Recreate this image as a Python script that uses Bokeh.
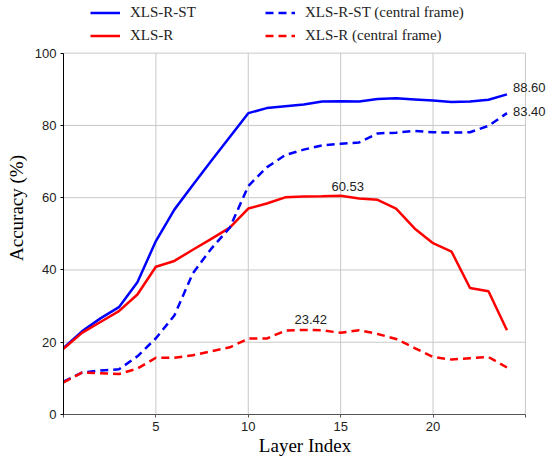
from bokeh.plotting import figure
from bokeh.models import Legend, LegendItem, Label, FixedTicker, Range1d
from bokeh.embed import file_html
from bokeh.resources import INLINE

layers = list(range(25))
xlsr_st = [18.4, 23.0, 26.6, 29.7, 36.6, 48.0, 56.7, 63.5, 70.2, 76.8, 83.4, 84.8, 85.3, 85.8,
           86.6, 86.7, 86.6, 87.3, 87.5, 87.2, 86.9, 86.5, 86.6, 87.1, 88.6]
xlsr = [18.2, 22.6, 25.6, 28.6, 33.2, 40.9, 42.5, 45.6, 48.6, 51.7, 57.0, 58.4, 60.1, 60.3,
        60.4, 60.53, 59.8, 59.4, 57.0, 51.5, 47.4, 45.1, 35.0, 34.1, 23.3]
xlsr_st_cf = [9.1, 11.6, 12.2, 12.5, 16.1, 21.1, 27.4, 39.1, 45.9, 51.7, 63.2, 68.4, 71.8, 73.3,
              74.5, 74.9, 75.3, 77.8, 78.0, 78.5, 78.1, 78.0, 78.1, 79.9, 83.4]
xlsr_cf = [8.9, 11.6, 11.4, 11.2, 12.7, 15.7, 15.7, 16.4, 17.5, 18.6, 21.0, 21.0, 23.2, 23.42,
           23.3, 22.6, 23.3, 22.3, 20.9, 18.4, 15.9, 15.2, 15.6, 15.9, 13.0]
x_label_ticks = [5, 10, 15, 20]
x_edge_ticks = [0, 25]
x_grid_ticks = [5, 10, 15, 20, 25]
y_ticks = [0, 20, 40, 60, 80, 100]
x_lim = (0, 25)
y_lim = (0, 100)

SERIF = "Liberation Serif"
SANS = "Liberation Sans"

p = figure(width=547, height=458, output_backend="svg", toolbar_location=None,
           x_range=Range1d(0, 26.14), y_range=Range1d(0, 114.3),
           min_border_left=63, min_border_right=1, min_border_top=1, min_border_bottom=2)
p.outline_line_color = None
p.grid.visible = False

# grid lines limited to the data box
GRID = "#c8c8c8"
p.segment(x0=[x_lim[0]] * len(y_ticks), x1=[x_lim[1]] * len(y_ticks), y0=y_ticks, y1=y_ticks,
          line_color=GRID, line_width=1)
p.segment(x0=x_grid_ticks, x1=x_grid_ticks, y0=[y_lim[0]] * len(x_grid_ticks),
          y1=[y_lim[1]] * len(x_grid_ticks), line_color=GRID, line_width=1)

p.xaxis.ticker = FixedTicker(ticks=x_label_ticks, minor_ticks=x_edge_ticks)
p.yaxis.ticker = FixedTicker(ticks=y_ticks)
p.xaxis.bounds = x_lim
p.yaxis.bounds = y_lim

for ax in (p.xaxis, p.yaxis):
    ax.major_tick_in = 0
    ax.major_tick_out = 3
    ax.minor_tick_in = 0
    ax.minor_tick_out = 3
    ax.major_label_text_font = SANS
    ax.major_label_text_font_size = "13px"
    ax.major_label_text_color = "#222222"
    ax.axis_label_text_font = SERIF
    ax.axis_label_text_font_size = "19px"
    ax.axis_label_text_font_style = "normal"
    ax.axis_label_text_color = "black"
    ax.major_label_standoff = 4

p.xaxis.axis_label_standoff = 1
p.yaxis.axis_label_standoff = 5
p.xaxis.axis_label = "Layer Index"
p.yaxis.axis_label = "Accuracy (%)"
p.yaxis.axis_line_color = "black"
p.yaxis.major_tick_line_color = "black"
p.yaxis.minor_tick_line_color = None
p.xaxis.axis_line_color = "#555555"
p.xaxis.major_tick_line_color = "#555555"
p.xaxis.minor_tick_line_color = "#555555"

BLUE = "#0000ff"
RED = "#ff0000"
r1 = p.line(layers, xlsr_st, line_color=BLUE, line_width=2.5)
r2 = p.line(layers, xlsr, line_color=RED, line_width=2.5)
r3 = p.line(layers, xlsr_st_cf, line_color=BLUE, line_width=2.5, line_dash="8 5")
r4 = p.line(layers, xlsr_cf, line_color=RED, line_width=2.5, line_dash="8 5")


def make_legend(items, loc):
    lg = Legend(items=items, orientation="horizontal", location=loc)
    lg.border_line_color = None
    lg.background_fill_alpha = 0
    lg.padding = 0
    lg.margin = 0
    lg.spacing = 10
    lg.glyph_width = 30
    lg.glyph_height = 21
    lg.label_height = 21
    lg.label_width = 125
    lg.label_standoff = 10
    lg.label_text_font = SERIF
    lg.label_text_font_size = "15px"
    lg.label_text_color = "#222222"
    return lg


legend_st = make_legend([LegendItem(label="XLS-R-ST", renderers=[r1]),
                         LegendItem(label="XLS-R-ST (central frame)", renderers=[r3])], (27, 391))
legend_r = make_legend([LegendItem(label="XLS-R", renderers=[r2]),
                        LegendItem(label="XLS-R (central frame)", renderers=[r4])], (27, 368))
p.add_layout(legend_st)
p.add_layout(legend_r)


def annotate(series, idx, dx, dy):
    p.add_layout(Label(x=layers[idx], y=series[idx], text=f"{series[idx]:.2f}",
                       x_offset=dx, y_offset=dy, text_font=SANS, text_font_size="13px",
                       text_color="#222222", text_baseline="middle", text_align="left"))


def annotate_center(series, dx, dy):
    idx = max(range(len(series)), key=lambda i: series[i])
    p.add_layout(Label(x=layers[idx], y=series[idx], text=f"{series[idx]:.2f}",
                       x_offset=dx, y_offset=dy, text_font=SANS, text_font_size="13px",
                       text_color="#222222", text_baseline="middle", text_align="center"))


annotate(xlsr_st, -1, 6, 7)
annotate(xlsr_st_cf, -1, 6, 2)
annotate_center(xlsr, 7, 9)
annotate_center(xlsr_cf, 7, 10)

open("out.html", "w").write(file_html(p, INLINE))
